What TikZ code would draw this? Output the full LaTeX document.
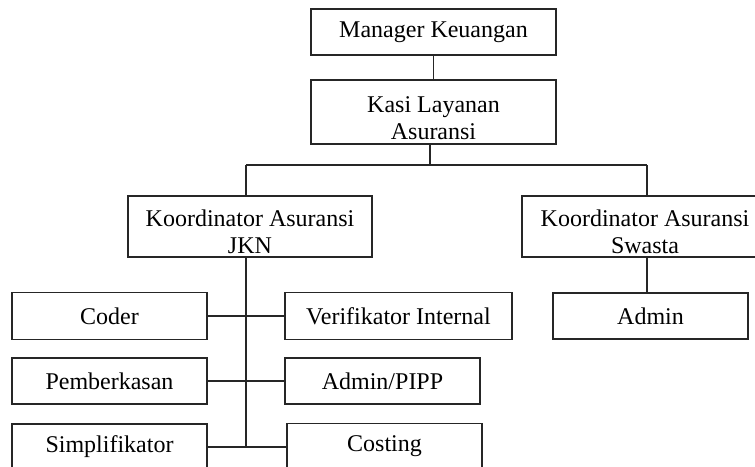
\documentclass[tikz,border=0pt]{standalone}
\usepackage{fontspec}
\setmainfont{Liberation Serif}
\begin{document}
\begin{tikzpicture}[x=0.5pt,y=-0.5pt,
  box/.style={draw=black!85,line width=0.75pt,rectangle,inner sep=0pt,
    align=center,font=\fontsize{12}{13.5}\selectfont,fill=white},
  link/.style={draw=black!85,line width=0.75pt}]
\useasboundingbox (0,0) rectangle (755,466);
\clip (0,0) rectangle (755,466);
\fill[white] (0,0) rectangle (755,466);

% strut that lowers two-line labels a little inside their boxes
\newcommand\lowerstrut{\rule{0pt}{14pt}}

% top of the chart
\node[box,minimum width=122.5pt,minimum height=23pt] (mk) at (433.5,32) {Manager Keuangan};
\node[box,minimum width=122.5pt,minimum height=32pt] (kasi) at (433.5,112) {\lowerstrut Kasi Layanan\\Asuransi};

% coordinators
\node[box,minimum width=122pt,minimum height=30.5pt] (jkn) at (250,226.5) {\lowerstrut Koordinator Asuransi\\JKN};
\node[box,minimum width=123pt,minimum height=30.5pt] (swasta) at (645,226.5) {\lowerstrut Koordinator Asuransi\\Swasta};

% staff under JKN
\node[box,minimum width=97.5pt,minimum height=23.5pt] (coder) at (109.5,316) {Coder};
\node[box,minimum width=113.5pt,minimum height=23.5pt] (verif) at (398.5,316) {Verifikator Internal};
\node[box,minimum width=97.5pt,minimum height=23pt] (pemb) at (109.5,381) {Pemberkasan};
\node[box,minimum width=97.5pt,minimum height=23pt] (pipp) at (382.5,381) {Admin/PIPP};
\node[box,minimum width=97.5pt,minimum height=23pt] (simpl) at (109.5,447) {Simplifikator};
\node[box,minimum width=97.5pt,minimum height=23pt] (costing) at (384.5,446.5) {Costing};

% staff under Swasta
\node[box,minimum width=97.5pt,minimum height=23pt] (admin) at (650.5,316) {Admin};

% branching points
\coordinate (hub) at (430,165);
\coordinate (lj) at (246,165);
\coordinate (rs) at (647,165);

% connectors
\draw[link] (mk.south) -- (kasi.north);
\draw[link] (kasi.south -| hub) -- (hub);
\draw[link] (lj) -- (rs);
\draw[link] (lj) -- (lj |- jkn.north);
\draw[link] (rs) -- (rs |- swasta.north);
\draw[link] (swasta.south -| rs) -- (admin.north -| rs);
\draw[link] (lj |- jkn.south) -- (lj |- simpl.east);
\draw[link] (coder.east) -- (verif.west);
\draw[link] (pemb.east) -- (pipp.west);
\draw[link] (simpl.east) -- (costing.west |- simpl.east);
\end{tikzpicture}
\end{document}
